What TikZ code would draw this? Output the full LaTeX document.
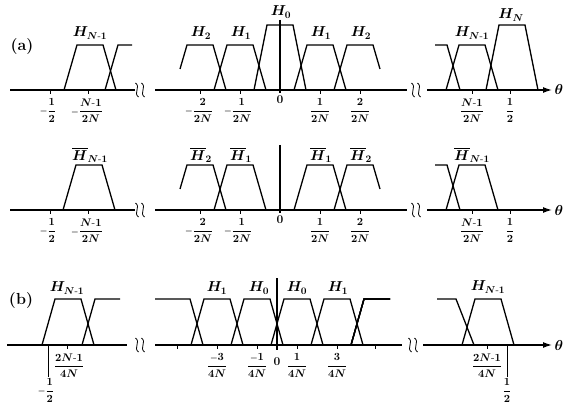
\documentclass[tikz,border=0pt]{standalone}
\usepackage{amsmath}
\usetikzlibrary{arrows.meta}

\tikzset{
  axisline/.style={line width=1.3pt},
  memb/.style={line width=1.3pt, line join=miter},
  tickmark/.style={line width=0.7pt},
  flabel/.style={font=\fontsize{11}{13}\selectfont\boldmath, inner sep=0.5pt, anchor=north},
  zlabel/.style={font=\fontsize{12}{14}\selectfont\boldmath, inner sep=0.5pt, anchor=north},
  hlabel/.style={font=\fontsize{14.5}{16}\selectfont\boldmath, inner sep=0.5pt},
  rowlabel/.style={font=\fontsize{16}{18}\selectfont\bfseries, inner sep=0.5pt},
}
% trapezoid: centre x, axis y, top y
\newcommand{\trapz}[3]{\draw[memb] (#1-26,#2) -- (#1-13,#3) -- (#1+13,#3) -- (#1+26,#2);}
% axis break
\newcommand{\brk}[2]{%
  \foreach \dx in {-3,3}
    \draw[line width=0.8pt] (#1+\dx-1.5,#2-7) .. controls (#1+\dx+4,#2-3) and (#1+\dx-4,#2+3) .. (#1+\dx+1.5,#2+7);}
\newcommand{\fr}[2]{\displaystyle\frac{#1}{#2}}
\newcommand{\mn}{{\scriptstyle-}}
\newcommand{\Nm}{N\text{-}1}

\begin{document}
\begin{tikzpicture}[x=1pt, y=-1pt]
\useasboundingbox (0,0) rectangle (564,403);

% ---- row (a), H ----
\draw[axisline] (10,90) -- (135,90);
\draw[axisline] (155,90) -- (407,90);
\draw[axisline, -{Latex[length=9pt,width=6pt]}] (427,90) -- (552,90);
\brk{140}{90} \brk{416}{90}
\trapz{90}{90}{45}
\draw[memb] (105,90) -- (118,45) -- (132,45);
\draw[memb] (180,69) -- (187,45) -- (213,45) -- (226,90);
\trapz{240}{90}{45}
\trapz{280}{90}{25}
\trapz{320}{90}{45}
\draw[memb] (334,90) -- (347,45) -- (373,45) -- (380,69);
\draw[axisline] (280,20) -- (280,93);
\draw[memb] (435,45) -- (447,45) -- (460,90);
\trapz{472}{90}{45}
\trapz{512}{90}{25}
\foreach \x in {50,88,200,240,320,360,472,510}
  \draw[tickmark] (\x,90) -- (\x,94);

\node[rowlabel] (lbla) at (22,47) {(a)};
\node[hlabel] (ha1) at (90,33) {$H_{\Nm}$};
\node[hlabel] (ha2) at (201,33) {$H_2$};
\node[hlabel] (ha3) at (241,33) {$H_1$};
\node[hlabel] (ha4) at (281,12) {$H_0$};
\node[hlabel] (ha5) at (321,33) {$H_1$};
\node[hlabel] (ha6) at (361,33) {$H_2$};
\node[hlabel] (ha7) at (472,33) {$H_{\Nm}$};
\node[hlabel] (ha8) at (511,15) {$H_N$};
\node[hlabel] (tha) at (559,90) {$\theta$};

\node[flabel] (fa1) at (48,98) {$\mn\fr{1}{2}$};
\node[flabel] (fa2) at (87,98) {$\mn\fr{\Nm}{2N}$};
\node[flabel] (fa3) at (199,98) {$\mn\fr{2}{2N}$};
\node[flabel] (fa4) at (238,98) {$\mn\fr{1}{2N}$};
\node[zlabel] (fa5) at (280,95) {$0$};
\node[flabel] (fa6) at (320,98) {$\fr{1}{2N}$};
\node[flabel] (fa7) at (360,98) {$\fr{2}{2N}$};
\node[flabel] (fa8) at (472,98) {$\fr{\Nm}{2N}$};
\node[flabel] (fa9) at (510,98) {$\fr{1}{2}$};

% ---- row (a), H bar ----
\draw[axisline] (10,210) -- (135,210);
\draw[axisline] (155,210) -- (407,210);
\draw[axisline, -{Latex[length=9pt,width=6pt]}] (427,210) -- (552,210);
\brk{140}{210} \brk{416}{210}
\trapz{89}{210}{165}
\draw[memb] (180,189) -- (187,165) -- (213,165) -- (226,210);
\trapz{240}{210}{165}
\trapz{320}{210}{165}
\draw[memb] (334,210) -- (347,165) -- (373,165) -- (380,189);
\draw[axisline] (280,145) -- (280,213);
\draw[memb] (435,165) -- (447,165) -- (460,210);
\trapz{472}{210}{165}
\foreach \x in {50,88,200,240,320,360,472,510}
  \draw[tickmark] (\x,210) -- (\x,214);

\node[hlabel] (hb1) at (90,155) {$\overline{H}_{\Nm}$};
\node[hlabel] (hb2) at (201,155) {$\overline{H}_2$};
\node[hlabel] (hb3) at (241,155) {$\overline{H}_1$};
\node[hlabel] (hb4) at (321,155) {$\overline{H}_1$};
\node[hlabel] (hb5) at (361,155) {$\overline{H}_2$};
\node[hlabel] (hb6) at (472,155) {$\overline{H}_{\Nm}$};
\node[hlabel] (thb) at (559,210) {$\theta$};

\node[flabel] (fb1) at (48,218) {$\mn\fr{1}{2}$};
\node[flabel] (fb2) at (87,218) {$\mn\fr{\Nm}{2N}$};
\node[flabel] (fb3) at (199,218) {$\mn\fr{2}{2N}$};
\node[flabel] (fb4) at (238,218) {$\mn\fr{1}{2N}$};
\node[zlabel] (fb5) at (280,215) {$0$};
\node[flabel] (fb6) at (320,218) {$\fr{1}{2N}$};
\node[flabel] (fb7) at (360,218) {$\fr{2}{2N}$};
\node[flabel] (fb8) at (472,218) {$\fr{\Nm}{2N}$};
\node[flabel] (fb9) at (510,218) {$\fr{1}{2}$};

% ---- row (b) ----
\draw[axisline] (7,345) -- (127,345);
\draw[axisline] (155,345) -- (402,345);
\draw[axisline, -{Latex[length=9pt,width=6pt]}] (423,345) -- (552,345);
\brk{140}{345} \brk{413}{345}
\trapz{68}{345}{299}
\draw[memb] (82,345) -- (95,299) -- (120,299);
\draw[memb] (155,299) -- (190,299) -- (203,345);
\foreach \x in {217,257,297,337}
  \trapz{\x}{345}{299}
\draw[memb] (351,345) -- (364,299) -- (390,299);
\draw[axisline] (277,278) -- (277,350);
\draw[memb] (437,299) -- (456,299) -- (474,345);
\trapz{488}{345}{299}
\foreach \x in {67,177,217,257,297,337,375,487}
  \draw[tickmark] (\x,345) -- (\x,349);
\draw[tickmark] (48,345) -- (48,377);
\draw[tickmark] (507,345) -- (507,377);

\node[rowlabel] (lblb) at (21,301) {(b)};
\node[hlabel] (hc1) at (67,288) {$H_{\Nm}$};
\node[hlabel] (hc2) at (217,288) {$H_1$};
\node[hlabel] (hc3) at (259,288) {$H_0$};
\node[hlabel] (hc4) at (297,288) {$H_0$};
\node[hlabel] (hc5) at (338,288) {$H_1$};
\node[hlabel] (hc6) at (488,287) {$H_{\Nm}$};
\node[hlabel] (thc) at (559,345) {$\theta$};

\node[flabel] (fc1) at (46,378) {$\mn\fr{1}{2}$};
\node[flabel] (fc2) at (69,353) {$\fr{2N\text{-}1}{4N}$};
\node[flabel] (fc3) at (217,353) {$\fr{\mn3}{4N}$};
\node[flabel] (fc4) at (257,353) {$\fr{\mn1}{4N}$};
\node[zlabel] (fc5) at (277,357) {$0$};
\node[flabel] (fc6) at (297,353) {$\fr{1}{4N}$};
\node[flabel] (fc7) at (337,353) {$\fr{3}{4N}$};
\node[flabel] (fc8) at (487,353) {$\fr{2N\text{-}1}{4N}$};
\node[flabel] (fc9) at (507,378) {$\fr{1}{2}$};
\end{tikzpicture}
\end{document}
